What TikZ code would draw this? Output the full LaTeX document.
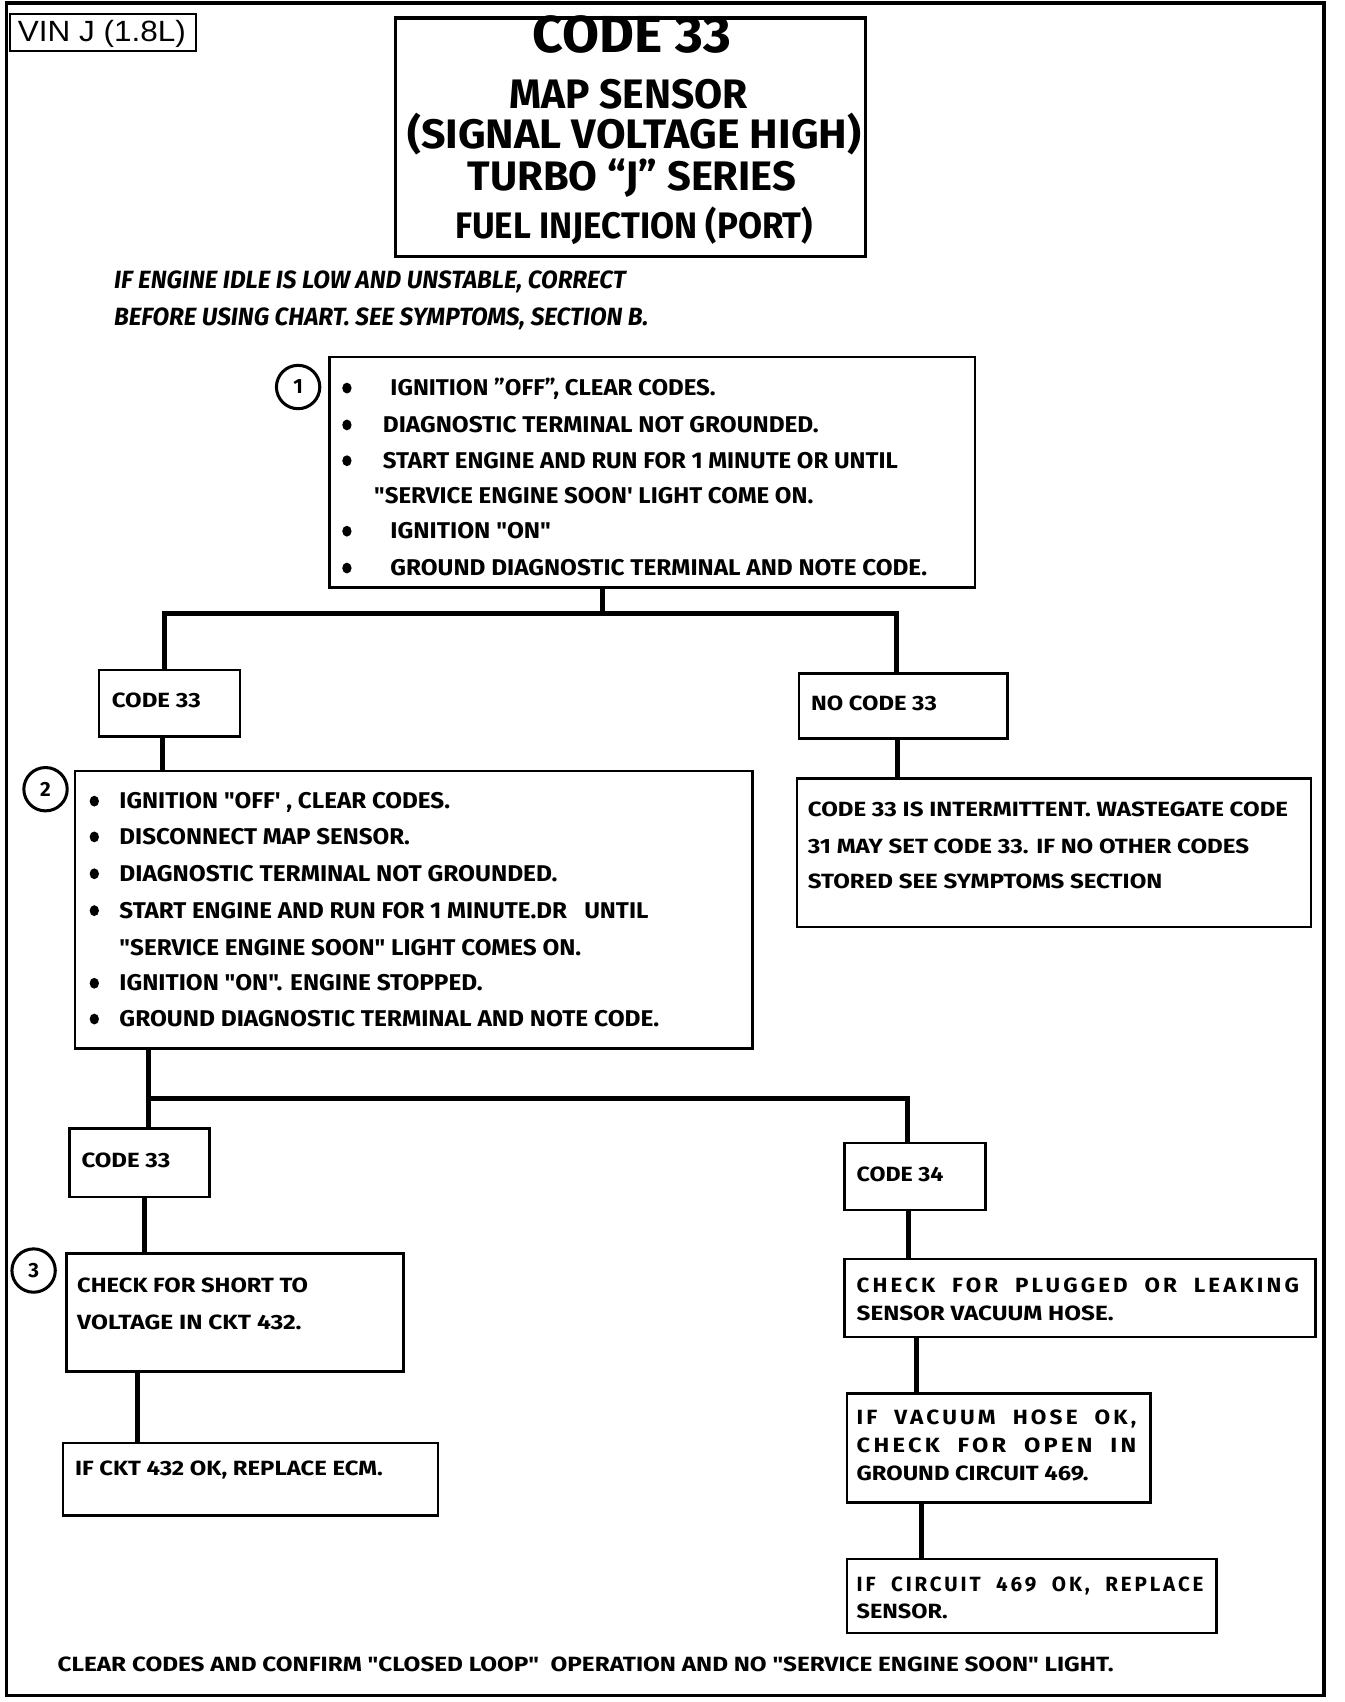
\documentclass[tikz,border=0pt]{standalone}
\usepackage{fontspec}
\usepackage{graphicx}
\setmainfont{Fira Sans}
\newfontfamily\cf{Fira Sans}
\newfontfamily\cfs{Fira Sans}[LetterSpace=14]
\newfontfamily\vinf{Liberation Sans}
\newlength\fitlen
\newcommand\fitw[2]{\settowidth\fitlen{#2}\scalebox{\fpeval{#1/\fitlen}}[1]{#2}}
\tikzset{
  frame/.style={draw, line width=3.6pt},
  box/.style={draw, line width=2.4pt, anchor=north west, inner sep=0pt},
  conn/.style={line width=4.6pt, line join=miter},
  tx/.style={inner sep=0pt, anchor=base west, font=\cf\bfseries\fontsize{21}{21}\selectfont},
  txs/.style={inner sep=0pt, anchor=base west, font=\cf\bfseries\fontsize{19}{19}\selectfont},
  txsp/.style={inner sep=0pt, anchor=base west, font=\cfs\bfseries\fontsize{19}{19}\selectfont},
  ttl/.style={inner sep=0pt, anchor=base, font=\cf\bfseries\fontsize{#1}{#1}\selectfont},
  note/.style={inner sep=0pt, anchor=base west, font=\cf\bfseries\itshape\fontsize{23}{23}\selectfont},
  num/.style={circle, draw, line width=2.8pt, minimum size=40pt, inner sep=0pt, font=\cf\bfseries\fontsize{19}{19}\selectfont},
  bul/.style={fill=black}
}
\begin{document}
\begin{tikzpicture}[x=1pt,y=-1pt]
\useasboundingbox (0,0) rectangle (1240,1570);
% outer frame
\draw[frame] (6,3) rectangle (1221,1564);
% VIN box
\node[box, line width=2pt, minimum width=172pt, minimum height=34pt] (vin) at (8,12) {};
\node[inner sep=0pt, anchor=base, font=\vinf\fontsize{27}{27}\selectfont] (vintx) at (94,38) {\fitw{155}{VIN J (1.8L)}};
% title box
\node[box, line width=3pt, minimum width=434pt, minimum height=220pt] (title) at (363,15) {};
\node[ttl=48] (t1) at (583,48) {\fitw{183}{CODE 33}};
\node[ttl=38] (t2) at (580,100) {\fitw{220}{MAP SENSOR}};
\node[ttl=38] (t3) at (585,137) {\fitw{419}{(SIGNAL VOLTAGE HIGH)}};
\node[ttl=38] (t4) at (583,176) {\fitw{303}{TURBO “J” SERIES}};
\node[ttl=34] (t5) at (585,220) {\fitw{330}{FUEL INJECTION (PORT)}};
% note
\node[note] (n1) at (105,266) {\fitw{472}{IF ENGINE IDLE IS LOW AND UNSTABLE, CORRECT}};
\node[note] (n2) at (105,300) {\fitw{493}{BEFORE USING CHART. SEE SYMPTOMS, SECTION B.}};
% step 1
\node[num] (c1) at (275,357) {1};
\node[box, minimum width=595pt, minimum height=213pt] (b1) at (303,328) {};
\foreach \yy in {358,392,425,490,524} \fill[bul] (320,\yy) ellipse (4.3pt and 5pt);
\node[tx] (b1a) at (360,365) {\fitw{300}{IGNITION ”OFF”, CLEAR CODES.}};
\node[tx] (b1b) at (353,399) {\fitw{402}{DIAGNOSTIC TERMINAL NOT GROUNDED.}};
\node[tx] (b1c) at (353,432) {\fitw{475}{START ENGINE AND RUN FOR 1 MINUTE OR UNTIL}};
\node[tx] (b1d) at (345,464) {\fitw{405}{"SERVICE ENGINE SOON' LIGHT COME ON.}};
\node[tx] (b1e) at (360,497) {\fitw{148}{IGNITION "ON"}};
\node[tx] (b1f) at (360,531) {\fitw{495}{GROUND DIAGNOSTIC TERMINAL AND NOTE CODE.}};
% branch 1
\node[box, minimum width=130pt, minimum height=61pt] (a33) at (90,617) {};
\node[txs] (a33t) at (103,653) {\fitw{82}{CODE 33}};
\node[box, minimum width=192pt, minimum height=60pt] (nc33) at (736,620) {};
\node[txs] (nc33t) at (748,655) {\fitw{116}{NO CODE 33}};
\coordinate (s1) at (556,566);
\coordinate (s1L) at (152,566);
\coordinate (s1R) at (827,566);
\draw[conn] (b1.south -| s1) -- (s1);
\draw[conn] (a33.north -| s1L) -- (s1L) -- (s1R) -- (nc33.north -| s1R);
% no code 33 box
\node[box, minimum width=474pt, minimum height=137pt] (nc) at (734,717) {};
\node[txs] (nca) at (745,753) {\fitw{443}{CODE 33 IS INTERMITTENT. WASTEGATE CODE}};
\node[txs] (ncb) at (745,787) {\fitw{407}{31 MAY SET CODE 33. IF NO OTHER CODES}};
\node[txs] (ncc) at (745,820) {\fitw{327}{STORED SEE SYMPTOMS SECTION}};
\coordinate (x2) at (828,0);
\draw[conn] (nc33.south -| x2) -- (nc.north -| x2);
% step 2
\node[num] (c2) at (42,728) {2};
\node[box, minimum width=625pt, minimum height=256pt] (b2) at (68,710) {};
\coordinate (x1) at (150,0);
\draw[conn] (a33.south -| x1) -- (b2.north -| x1);
\foreach \yy in {739,772,806,840,907,940} \fill[bul] (87,\yy) ellipse (4.3pt and 5pt);
\node[tx] (b2a) at (110,746) {\fitw{305}{IGNITION "OFF' , CLEAR CODES.}};
\node[tx] (b2b) at (110,779) {\fitw{268}{DISCONNECT MAP SENSOR.}};
\node[tx] (b2c) at (110,813) {\fitw{404}{DIAGNOSTIC TERMINAL NOT GROUNDED.}};
\node[tx] (b2d) at (110,847) {\fitw{488}{START ENGINE AND RUN FOR 1 MINUTE.DR\ \ \ UNTIL}};
\node[tx] (b2e) at (110,881) {\fitw{426}{"SERVICE ENGINE SOON" LIGHT COMES ON.}};
\node[tx] (b2f) at (110,914) {\fitw{335}{IGNITION "ON". ENGINE STOPPED.}};
\node[tx] (b2g) at (110,947) {\fitw{498}{GROUND DIAGNOSTIC TERMINAL AND NOTE CODE.}};
% branch 2
\node[box, minimum width=129pt, minimum height=63pt] (b33) at (63,1040) {};
\node[txs] (b33t) at (75,1077) {\fitw{82}{CODE 33}};
\node[box, minimum width=130pt, minimum height=62pt] (c34) at (778,1053) {};
\node[txs] (c34t) at (790,1090) {\fitw{80}{CODE 34}};
\coordinate (s2) at (137,1013);
\coordinate (s2R) at (837,1013);
\draw[conn] (b2.south -| s2) -- (s2) -- (b33.north -| s2);
\draw[conn] (s2) -- (s2R) -- (c34.north -| s2R);
% left column
\node[num] (c3) at (31,1172) {3};
\node[box, minimum width=311pt, minimum height=109pt] (b3) at (60,1155) {};
\node[txs] (b3a) at (71,1192) {\fitw{213}{CHECK FOR SHORT TO}};
\node[txs] (b3b) at (71,1226) {\fitw{207}{VOLTAGE IN CKT 432.}};
\coordinate (x3) at (133,0);
\draw[conn] (b33.south -| x3) -- (b3.north -| x3);
\node[box, minimum width=346pt, minimum height=67pt] (b4) at (57,1330) {};
\node[txs] (b4a) at (69,1361) {\fitw{284}{IF CKT 432 OK, REPLACE ECM.}};
\coordinate (x4) at (127,0);
\draw[conn] (b3.south -| x4) -- (b4.north -| x4);
% right column
\node[box, minimum width=434pt, minimum height=72pt] (r1) at (778,1160) {};
\node[txsp] (r1a) at (790,1192) {\fitw{408}{CHECK\ \ FOR\ \ PLUGGED\ \ OR\ \ LEAKING}};
\node[txs] (r1b) at (790,1218) {\fitw{237}{SENSOR VACUUM HOSE.}};
\coordinate (x5) at (838,0);
\draw[conn] (c34.south -| x5) -- (r1.north -| x5);
\node[box, minimum width=280pt, minimum height=101pt] (r2) at (780,1284) {};
\node[txsp] (r2a) at (790,1314) {\fitw{258}{IF\ \ VACUUM\ \ HOSE\ \ OK,}};
\node[txsp] (r2b) at (790,1340) {\fitw{258}{CHECK\ \ FOR\ \ OPEN\ \ IN}};
\node[txs] (r2c) at (790,1366) {\fitw{214}{GROUND CIRCUIT 469.}};
\coordinate (x6) at (845,0);
\draw[conn] (r1.south -| x6) -- (r2.north -| x6);
\node[box, minimum width=341pt, minimum height=68pt] (r3) at (780,1437) {};
\node[txsp] (r3a) at (790,1468) {\fitw{320}{IF\ \ CIRCUIT\ \ 469\ \ OK,\ \ REPLACE}};
\node[txs] (r3b) at (790,1493) {\fitw{84}{SENSOR.}};
\coordinate (x7) at (850,0);
\draw[conn] (r2.south -| x7) -- (r3.north -| x7);
% footer
\node[txs] (foot) at (53,1542) {\fitw{974}{CLEAR CODES AND CONFIRM "CLOSED LOOP"\ \ OPERATION AND NO "SERVICE ENGINE SOON" LIGHT.}};
\end{tikzpicture}
\end{document}
